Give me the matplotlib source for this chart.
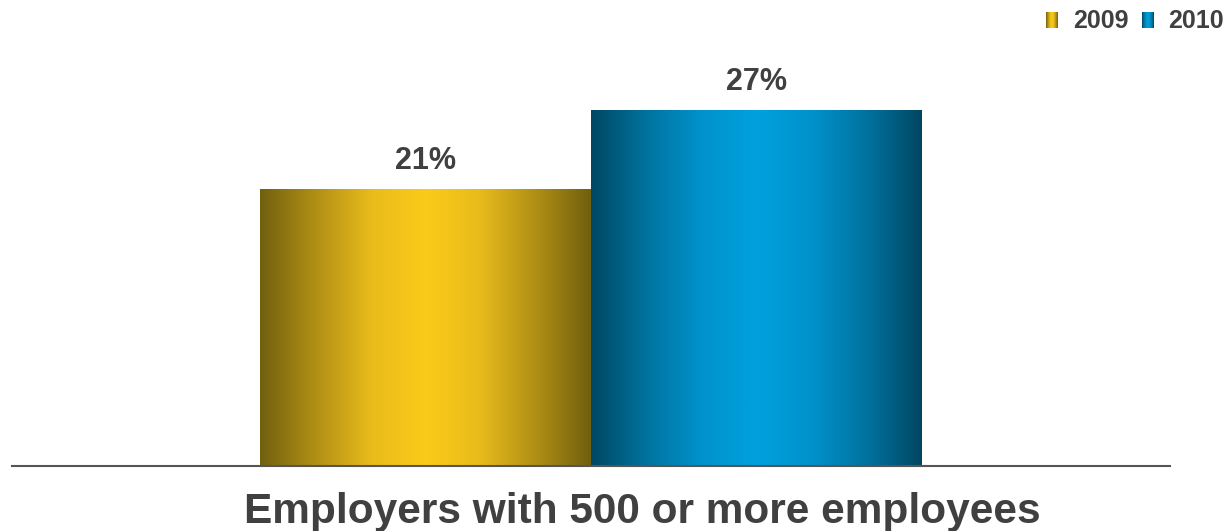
import numpy as np
import matplotlib.pyplot as plt
import matplotlib.transforms as mtransforms
from matplotlib.colors import LinearSegmentedColormap
from matplotlib.patches import Rectangle

categories = ["Employers with 500 or more employees"]
years = ["2009", "2010"]
values_2009 = [21]
values_2010 = [27]
labels_2009 = ["21%"]
labels_2010 = ["27%"]

plt.rcParams["font.family"] = ["Liberation Sans", "DejaVu Sans"]
text_color = "#404040"

gold = LinearSegmentedColormap.from_list("gold", ["#72600f", "#b08f14", "#e8bb1c", "#fbcb19",
                                                  "#e8bb1c", "#b08f14", "#72600f"])
blue = LinearSegmentedColormap.from_list("blue", ["#004763", "#00739f", "#0092cc", "#00a1de",
                                                  "#0092cc", "#00739f", "#004763"])

fig = plt.figure(figsize=(12.3, 5.31), dpi=100)
ax = fig.add_axes([12 / 1230, (531 - 466) / 531, 1158 / 1230, 466 / 531])

x = np.arange(len(categories))
width = 0.2858
grad = np.linspace(0, 1, 256).reshape(1, -1)
px = 1 / 13.19  # data units per pixel on the y axis


def gradient_bars(xpos, vals, cmap):
    for xi, v in zip(xpos, vals):
        x0 = xi - width / 2
        im = ax.imshow(grad, cmap=cmap, aspect="auto", extent=(x0, x0 + width, 0, v),
                       interpolation="bicubic", zorder=2)
        rect = Rectangle((x0, 0), width, v, transform=ax.transData, fc="none", ec="none")
        ax.add_patch(rect)
        im.set_clip_path(rect)


gradient_bars(x - width / 2, values_2009, gold)
gradient_bars(x + width / 2, values_2010, blue)

for xi, v, lab in zip(x - width / 2, values_2009, labels_2009):
    ax.text(xi, v + 20 * px, lab, ha="center", va="baseline", fontsize=22, fontweight="bold", color=text_color)
for xi, v, lab in zip(x + width / 2, values_2010, labels_2010):
    ax.text(xi, v + 20 * px, lab, ha="center", va="baseline", fontsize=22, fontweight="bold", color=text_color)

ax.set_xlim(-0.5, 0.5)
ax.set_ylim(0, 466 * px)
for s in ["top", "right", "left"]:
    ax.spines[s].set_visible(False)
ax.spines["bottom"].set_color("#555555")
ax.spines["bottom"].set_linewidth(1.5)
ax.set_yticks([])
ax.set_xticks([])

# category label, sits a bit right of the bar group in the original
shift = mtransforms.ScaledTranslation(51 / 100, 0, fig.dpi_scale_trans)
for xi, cat in zip(x, categories):
    ax.text(xi, -57 * px, cat, ha="center", va="baseline", fontsize=30.5, fontweight="bold",
            color=text_color, transform=ax.transData + shift, clip_on=False)

# legend at top right with gradient squares
for yr, cmap, sq_left, txt_left in zip(years, [gold, blue], [1046, 1142], [1073, 1168]):
    lax = fig.add_axes([sq_left / 1230, (531 - 28) / 531, 12 / 1230, 16 / 531])
    lax.imshow(grad, cmap=cmap, aspect="auto", interpolation="bicubic")
    lax.axis("off")
    fig.text(txt_left / 1230, (531 - 28) / 531, yr, ha="left", va="baseline",
             fontsize=18, fontweight="bold", color=text_color)

fig.savefig("out.png", dpi=100)
